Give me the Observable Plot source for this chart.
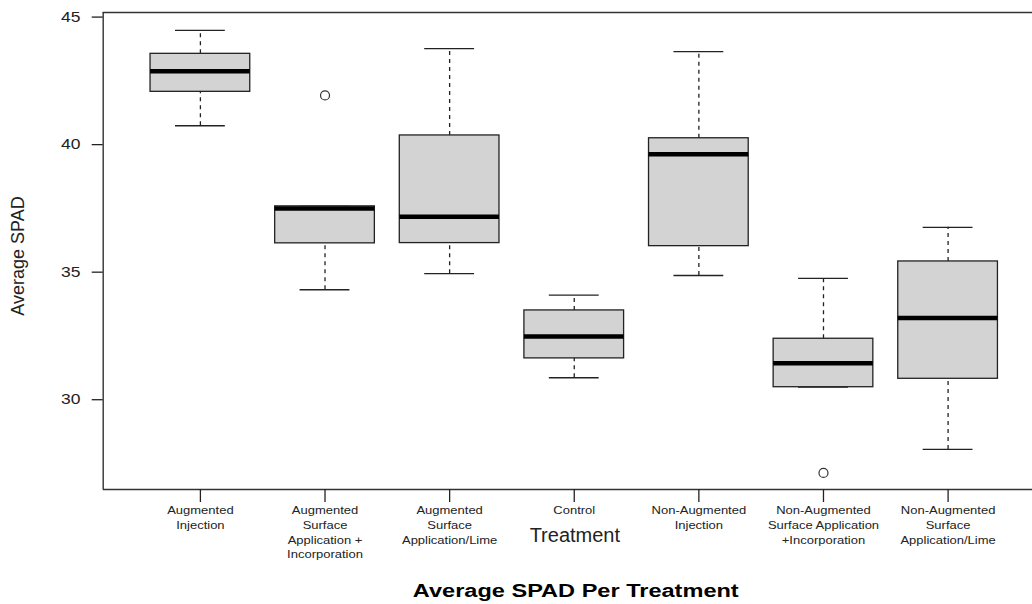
<!DOCTYPE html>
<html>
<head>
<meta charset="utf-8">
<script src="https://cdn.jsdelivr.net/npm/d3@7"></script>
<script src="https://cdn.jsdelivr.net/npm/@observablehq/plot@0.6"></script>
<style>
  html, body { margin: 0; padding: 0; background: #fff; overflow: hidden; }
  #chart svg { display: block; }
</style>
</head>
<body>
<div id="chart"></div>
<script>
// Treatment names (line breaks as printed under each box)
const treatments = [
  "Augmented\nInjection",
  "Augmented\nSurface\nApplication +\nIncorporation",
  "Augmented\nSurface\nApplication/Lime",
  "Control",
  "Non-Augmented\nInjection",
  "Non-Augmented\nSurface Application\n+Incorporation",
  "Non-Augmented\nSurface\nApplication/Lime"
];

// Five-number summaries of average SPAD per treatment
const whiskerLow  = [40.74, 34.31, 34.94, 30.86, 34.87, 30.49, 28.05];
const lowerQuart  = [42.07, 36.13, 36.14, 31.62, 36.02, 30.49, 30.82];
const medians     = [42.88, 37.50, 37.17, 32.48, 39.62, 31.43, 33.20];
const upperQuart  = [43.56, 37.58, 40.36, 33.50, 40.25, 32.39, 35.42];
const whiskerHigh = [44.48, 37.58, 43.76, 34.10, 43.65, 34.76, 36.76];

// Points beyond the whiskers: treatment position and value
const outlierPos    = [2, 6];
const outlierValues = [41.93, 27.13];

const yTicks = [30, 35, 40, 45];
const yDomain = [26.48, 45.18];
const xDomain = [0.22, 7.78];

const boxes = treatments.map((name, i) => ({
  pos: i + 1, name,
  lo: whiskerLow[i], q1: lowerQuart[i], med: medians[i],
  q3: upperQuart[i], hi: whiskerHigh[i]
}));
const outliers = outlierPos.map((p, i) => ({pos: p, value: outlierValues[i]}));

const ink = "#222";
const halfBox = 0.4, halfStaple = 0.2;

const chart = Plot.plot({
  width: 1032,
  height: 604,
  marginLeft: 102.7,
  marginRight: 0,
  marginTop: 12,
  marginBottom: 115,
  style: {fontFamily: "'Liberation Sans', Arial, sans-serif", color: ink, background: "#fff", overflow: "hidden"},
  x: {type: "linear", domain: xDomain, range: [102.7, 1044.8]},
  y: {domain: yDomain, range: [489, 12]},
  marks: [
    // whiskers (dashed) and staples
    Plot.ruleX(boxes, {x: "pos", y1: "q3", y2: "hi", stroke: ink, strokeWidth: 1.3, strokeDasharray: "4,4"}),
    Plot.ruleX(boxes, {x: "pos", y1: "lo", y2: "q1", stroke: ink, strokeWidth: 1.3, strokeDasharray: "4,4"}),
    Plot.ruleY(boxes, {x1: d => d.pos - halfStaple, x2: d => d.pos + halfStaple, y: "hi", stroke: ink, strokeWidth: 1.3}),
    Plot.ruleY(boxes, {x1: d => d.pos - halfStaple, x2: d => d.pos + halfStaple, y: "lo", stroke: ink, strokeWidth: 1.3}),
    // boxes
    Plot.rect(boxes, {x1: d => d.pos - halfBox, x2: d => d.pos + halfBox, y1: "q1", y2: "q3",
      fill: "#d3d3d3", stroke: ink, strokeWidth: 1.3}),
    // medians
    Plot.ruleY(boxes, {x1: d => d.pos - halfBox, x2: d => d.pos + halfBox, y: "med", stroke: "#000", strokeWidth: 4.5}),
    // outliers
    Plot.dot(outliers, {x: "pos", y: "value", r: 4.5, stroke: "#333", strokeWidth: 1.2, fill: "none"}),
    // plot border (left, top, bottom)
    Plot.ruleY([yDomain[1]], {stroke: "#333", strokeWidth: 1.4}),
    Plot.ruleY([yDomain[0]], {stroke: "#333", strokeWidth: 1.4}),
    Plot.ruleX([xDomain[0]], {stroke: "#333", strokeWidth: 1.4}),
    // axes
    Plot.axisY({ticks: yTicks, tickSize: 11, tickPadding: 11.7, fontSize: 14, label: null, strokeWidth: 1.3}),
    Plot.axisX({ticks: boxes.map(d => d.pos), tickSize: 13, tickFormat: () => "", label: null, strokeWidth: 1.3}),
    // treatment names below the ticks
    Plot.text(boxes, {x: "pos", text: "name", frameAnchor: "bottom", lineAnchor: "top",
      dy: 13.5, fontSize: 11.5, lineHeight: 1.3, fill: ink}),
    // axis titles and chart title
    Plot.text(["Treatment"], {frameAnchor: "bottom", lineAnchor: "top", dx: 7, dy: 38, fontSize: 20, fill: ink}),
    Plot.text(["Average SPAD Per Treatment"], {frameAnchor: "bottom", lineAnchor: "top", dx: 8, dy: 94,
      fontSize: 19, fontWeight: "bold", fill: "#000"}),
    Plot.text(["Average SPAD"], {frameAnchor: "left", textAnchor: "middle", rotate: -90, dx: -84.7, dy: 5,
      fontSize: 18, fill: ink})
  ]
});

document.getElementById("chart").append(chart);

// Widen the lettering of some labels horizontally (keyed by font size)
const widen = {"14": 1.25, "11.5": 1.13, "19": 1.24};
chart.querySelectorAll("text").forEach(t => {
  const holder = t.closest("[font-size]");
  if (!holder) return;
  const k = widen[String(parseFloat(holder.getAttribute("font-size")))];
  if (!k) return;
  const tr = t.getAttribute("transform") || "";
  if (tr.includes("rotate")) return;
  const b = t.getBBox();
  const anchor = getComputedStyle(t).textAnchor;
  const ox = anchor === "end" ? b.x + b.width : anchor === "middle" ? b.x + b.width / 2 : b.x;
  t.setAttribute("transform", `${tr} translate(${ox} 0) scale(${k} 1) translate(${-ox} 0)`);
});
</script>
</body>
</html>
